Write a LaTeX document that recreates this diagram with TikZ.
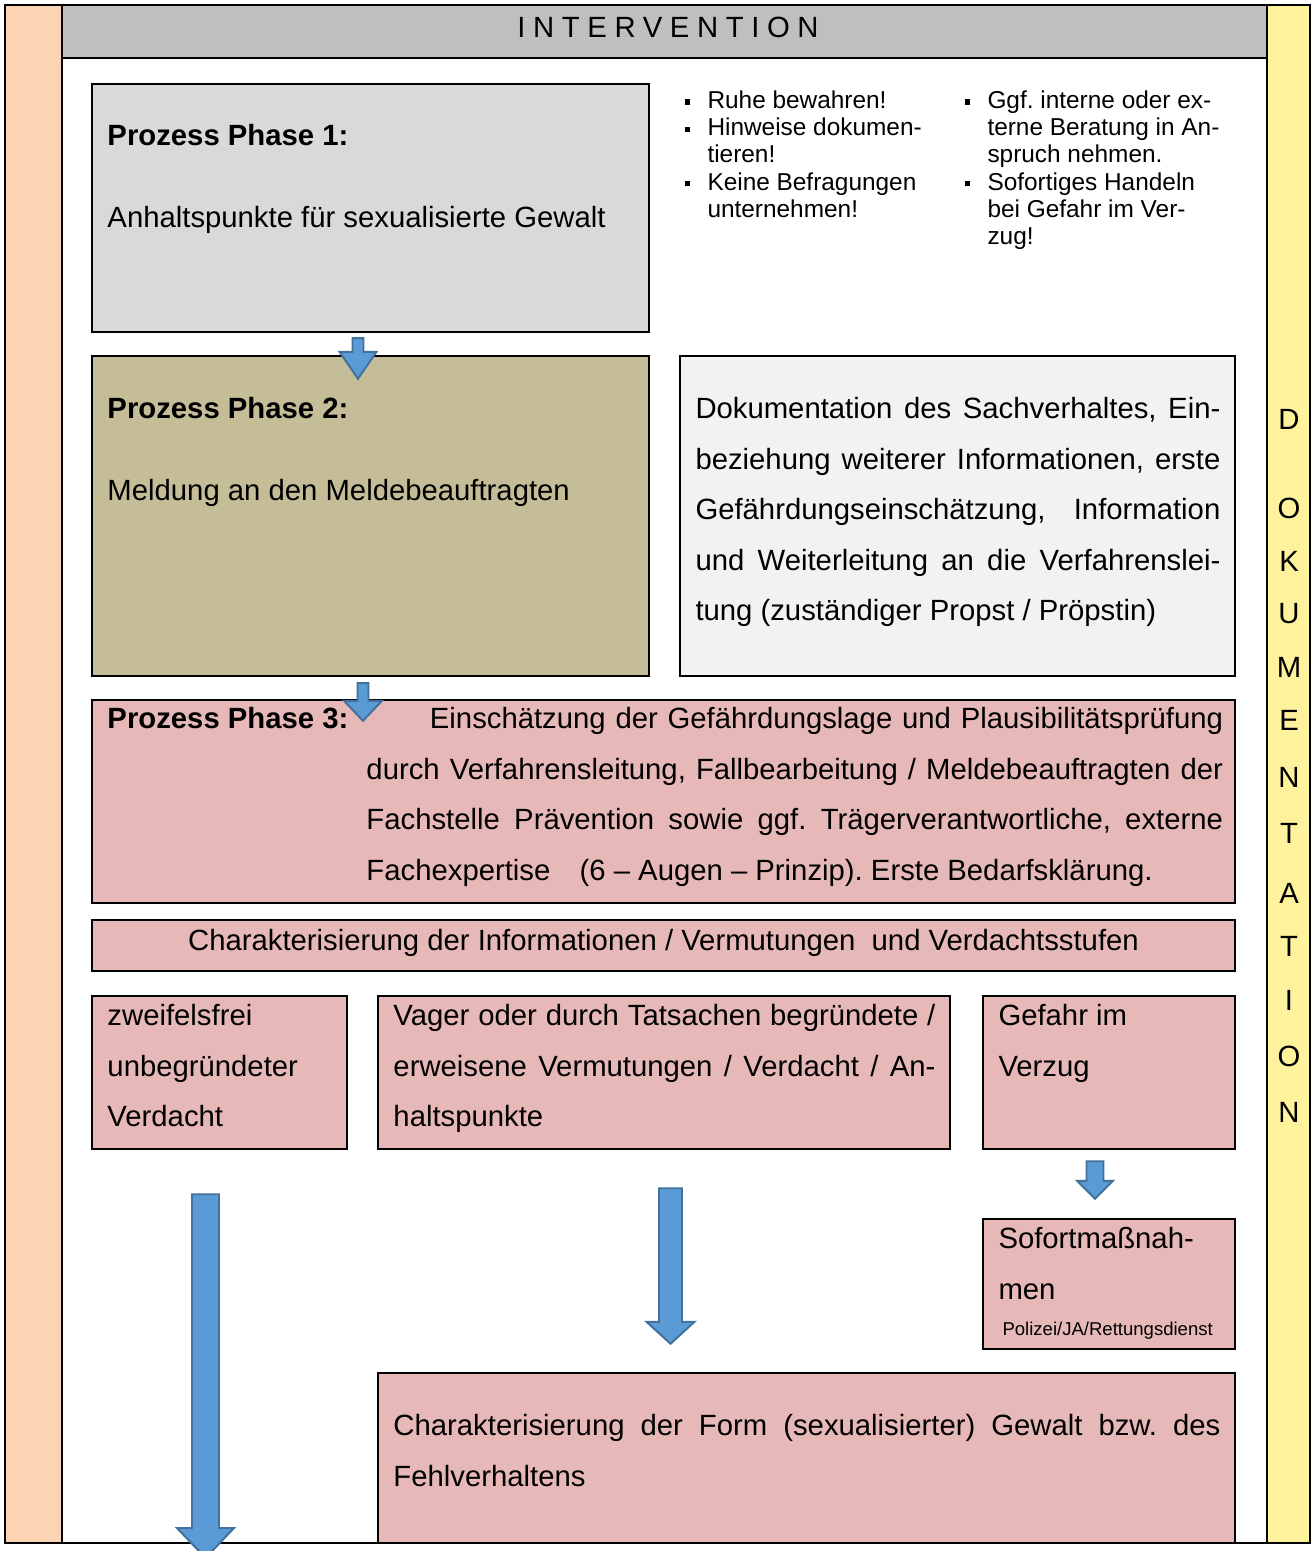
\documentclass[tikz,border=0pt]{standalone}
\usepackage{fontspec}
\setmainfont{Liberation Sans}
\usetikzlibrary{calc,fit}

\definecolor{kopfgrau}{HTML}{BFBFBF}
\definecolor{grau1}{HTML}{D9D9D9}
\definecolor{hellgrau}{HTML}{F2F2F2}
\definecolor{oliv}{HTML}{C4BD97}
\definecolor{rosa}{HTML}{E6B8B7}
\definecolor{orange}{HTML}{FBD4B4}
\definecolor{gelb}{HTML}{FFF29C}
\definecolor{pfeilblau}{HTML}{5B9BD5}
\definecolor{pfeilrand}{HTML}{41719C}

\newcommand{\gross}{\fontsize{12}{20.7}\selectfont\frenchspacing}
\newcommand{\klein}{\fontsize{10}{11.2}\selectfont\frenchspacing}
\newcommand{\winzig}{\fontsize{7.6}{9}\selectfont}
\newcommand{\bul}{\leavevmode\llap{\rule[1.5pt]{2.1pt}{2.1pt}\hspace{7.2pt}}}

\tikzset{
  kasten/.style={draw, line width=1pt, inner sep=0pt, fill=#1},
  txt/.style={inner sep=0pt, anchor=north west, font=\gross, align=left},
  block/.style={txt, align=justify, text width=#1,
    execute at begin node={\tolerance=9999}},
  dok/.style={inner sep=0pt, font=\gross},
  pfeil/.style n args={3}{fill=pfeilblau, draw=pfeilrand, line width=0.8pt,
    to path={($(\tikztostart)+(-#1,0)$) -- ($(\tikztotarget)+(-#1,-#3)$)
      -- ($(\tikztotarget)+(-#2,-#3)$) -- (\tikztotarget)
      -- ($(\tikztotarget)+(#2,-#3)$) -- ($(\tikztotarget)+(#1,-#3)$)
      -- ($(\tikztostart)+(#1,0)$) -- cycle}}
}

\begin{document}
\begin{tikzpicture}[x=0.4098pt, y=-0.4098pt]
  \useasboundingbox (0,0) rectangle (1314,1551);

  % Rahmen und Kopf
  \node[kasten=orange, fit={(5,5) (62,1543)}] (links) {};
  \node[kasten=gelb, fit={(1267,5) (1310,1543)}] (rechts) {};
  \node[kasten=kopfgrau, fit={(62,5) (1267,58)}] (kopf) {};
  \node[kasten=white, fit={(62,58) (1267,1543)}] (feld) {};
  \node[inner sep=0pt, font={\gross\addfontfeature{LetterSpace=26}}] (titel) at (668,27) {INTERVENTION};

  % Kaesten
  \node[kasten=grau1, fit={(92,84) (649,332)}] (p1) {};
  \node[kasten=oliv, fit={(92,356) (649,676)}] (p2) {};
  \node[kasten=hellgrau, fit={(680,356) (1235,676)}] (doku) {};
  \node[kasten=rosa, fit={(92,700) (1235,903)}] (p3) {};
  \node[kasten=rosa, fit={(92,920) (1235,971)}] (stufen) {};
  \node[kasten=rosa, fit={(92,996) (347,1149)}] (s1) {};
  \node[kasten=rosa, fit={(378,996) (950,1149)}] (s2) {};
  \node[kasten=rosa, fit={(983,996) (1235,1149)}] (s3) {};
  \node[kasten=rosa, fit={(983,1219) (1235,1349)}] (sofort) {};
  \node[kasten=rosa, fit={(378,1373) (1235,1543)}] (form) {};

  % Phase 1
  \node[txt, font=\gross\bfseries] (t1a) at (107,124) {Prozess Phase 1:};
  \node[txt] (t1b) at (107,206) {Anhaltspunkte für sexualisierte Gewalt};
  \node[txt, font=\klein] (regel1) at (707,90) {\bul Ruhe bewahren!\\
    \bul Hinweise dokumen-\\tieren!\\\bul Keine Befragungen\\unternehmen!};
  \node[txt, font=\klein] (regel2) at (987,90) {\bul Ggf. interne oder ex-\\
    terne Beratung in An-\\spruch nehmen.\\\bul Sofortiges Handeln\\
    bei Gefahr im Ver-\\zug!};

  % Phase 2
  \node[txt, font=\gross\bfseries] (t2a) at (107,397) {Prozess Phase 2:};
  \node[txt] (t2b) at (107,479) {Meldung an den Meldebeauftragten};
  \node[block=215.1pt] (t2c) at (695,397) {Dokumentation des Sachverhaltes, Ein-\linebreak
    beziehung weiterer Informationen, erste\linebreak
    Gefährdungseinschätzung, Information\linebreak
    und Weiterleitung an die Verfahrenslei-\linebreak
    tung (zuständiger Propst / Pröpstin)};

  % Phase 3
  \node[txt, font=\gross\bfseries] (t3a) at (107,707) {Prozess Phase 3:};
  \node[block=351pt] (t3b) at (366,707) {\hspace*{26pt}Einschätzung der Gefährdungslage und Plausibilitätsprüfung\linebreak
    durch Verfahrensleitung, Fallbearbeitung / Meldebeauftragten der\linebreak
    Fachstelle Prävention sowie ggf. Trägerverantwortliche, externe\linebreak
    Fachexpertise\quad (6 – Augen – Prinzip). Erste Bedarfsklärung.};
  \node[txt, anchor=north] (t4) at (663.5,929) {Charakterisierung der Informationen / Vermutungen\ \ und Verdachtsstufen};

  % Verdachtsstufen
  \node[txt] (t5a) at (107,1004) {zweifelsfrei\\unbegründeter\\Verdacht};
  \node[block=222.1pt] (t5b) at (393,1004) {Vager oder durch Tatsachen begründete /\linebreak
    erweisene Vermutungen / Verdacht / An-\linebreak haltspunkte};
  \node[txt] (t5c) at (998,1004) {Gefahr im\\Verzug};
  \node[txt] (t6a) at (998,1227) {Sofortmaßnah-\\men};
  \node[txt, anchor=base west, font=\winzig] (t6b) at (1002,1335) {Polizei/JA/Rettungsdienst};
  \node[block=338.9pt] (t7) at (393,1414) {Charakterisierung der Form (sexualisierter) Gewalt bzw. des\linebreak
    Fehlverhaltens};

  % Dokumentation
  \foreach \b/\y in {D/419, O/508, K/561, U/614, M/667, E/720, N/777, T/833, A/893, T/946, I/1000, O/1056, N/1112}
    \node[dok] (d\y) at (1289,\y) {\b};

  % Pfeile
  \draw[pfeil={5.5}{18.5}{27}] ($(p1.south)+(-12.5,5)$) to ($(p2.north)+(-12.5,24)$);
  \draw[pfeil={5.5}{19}{20}] ($(p2.south)+(-7.5,6)$) to ($(p2.south |- p3.north)+(-7.5,22)$);
  \draw[pfeil={8.5}{18}{18}] ($(s3.south)+(-14,11)$) to ($(sofort.north)+(-14,-19)$);
  \draw[pfeil={11.5}{24}{22}] ($(s2.south)+(6.5,38)$) to ($(s2.south |- form.north)+(6.5,-28)$);
  \coordinate (ende) at (205.5,1558);
  \draw[pfeil={13.5}{28.5}{30}] ($(s1.south)+(-14,44)$) to (ende);
\end{tikzpicture}
\end{document}
